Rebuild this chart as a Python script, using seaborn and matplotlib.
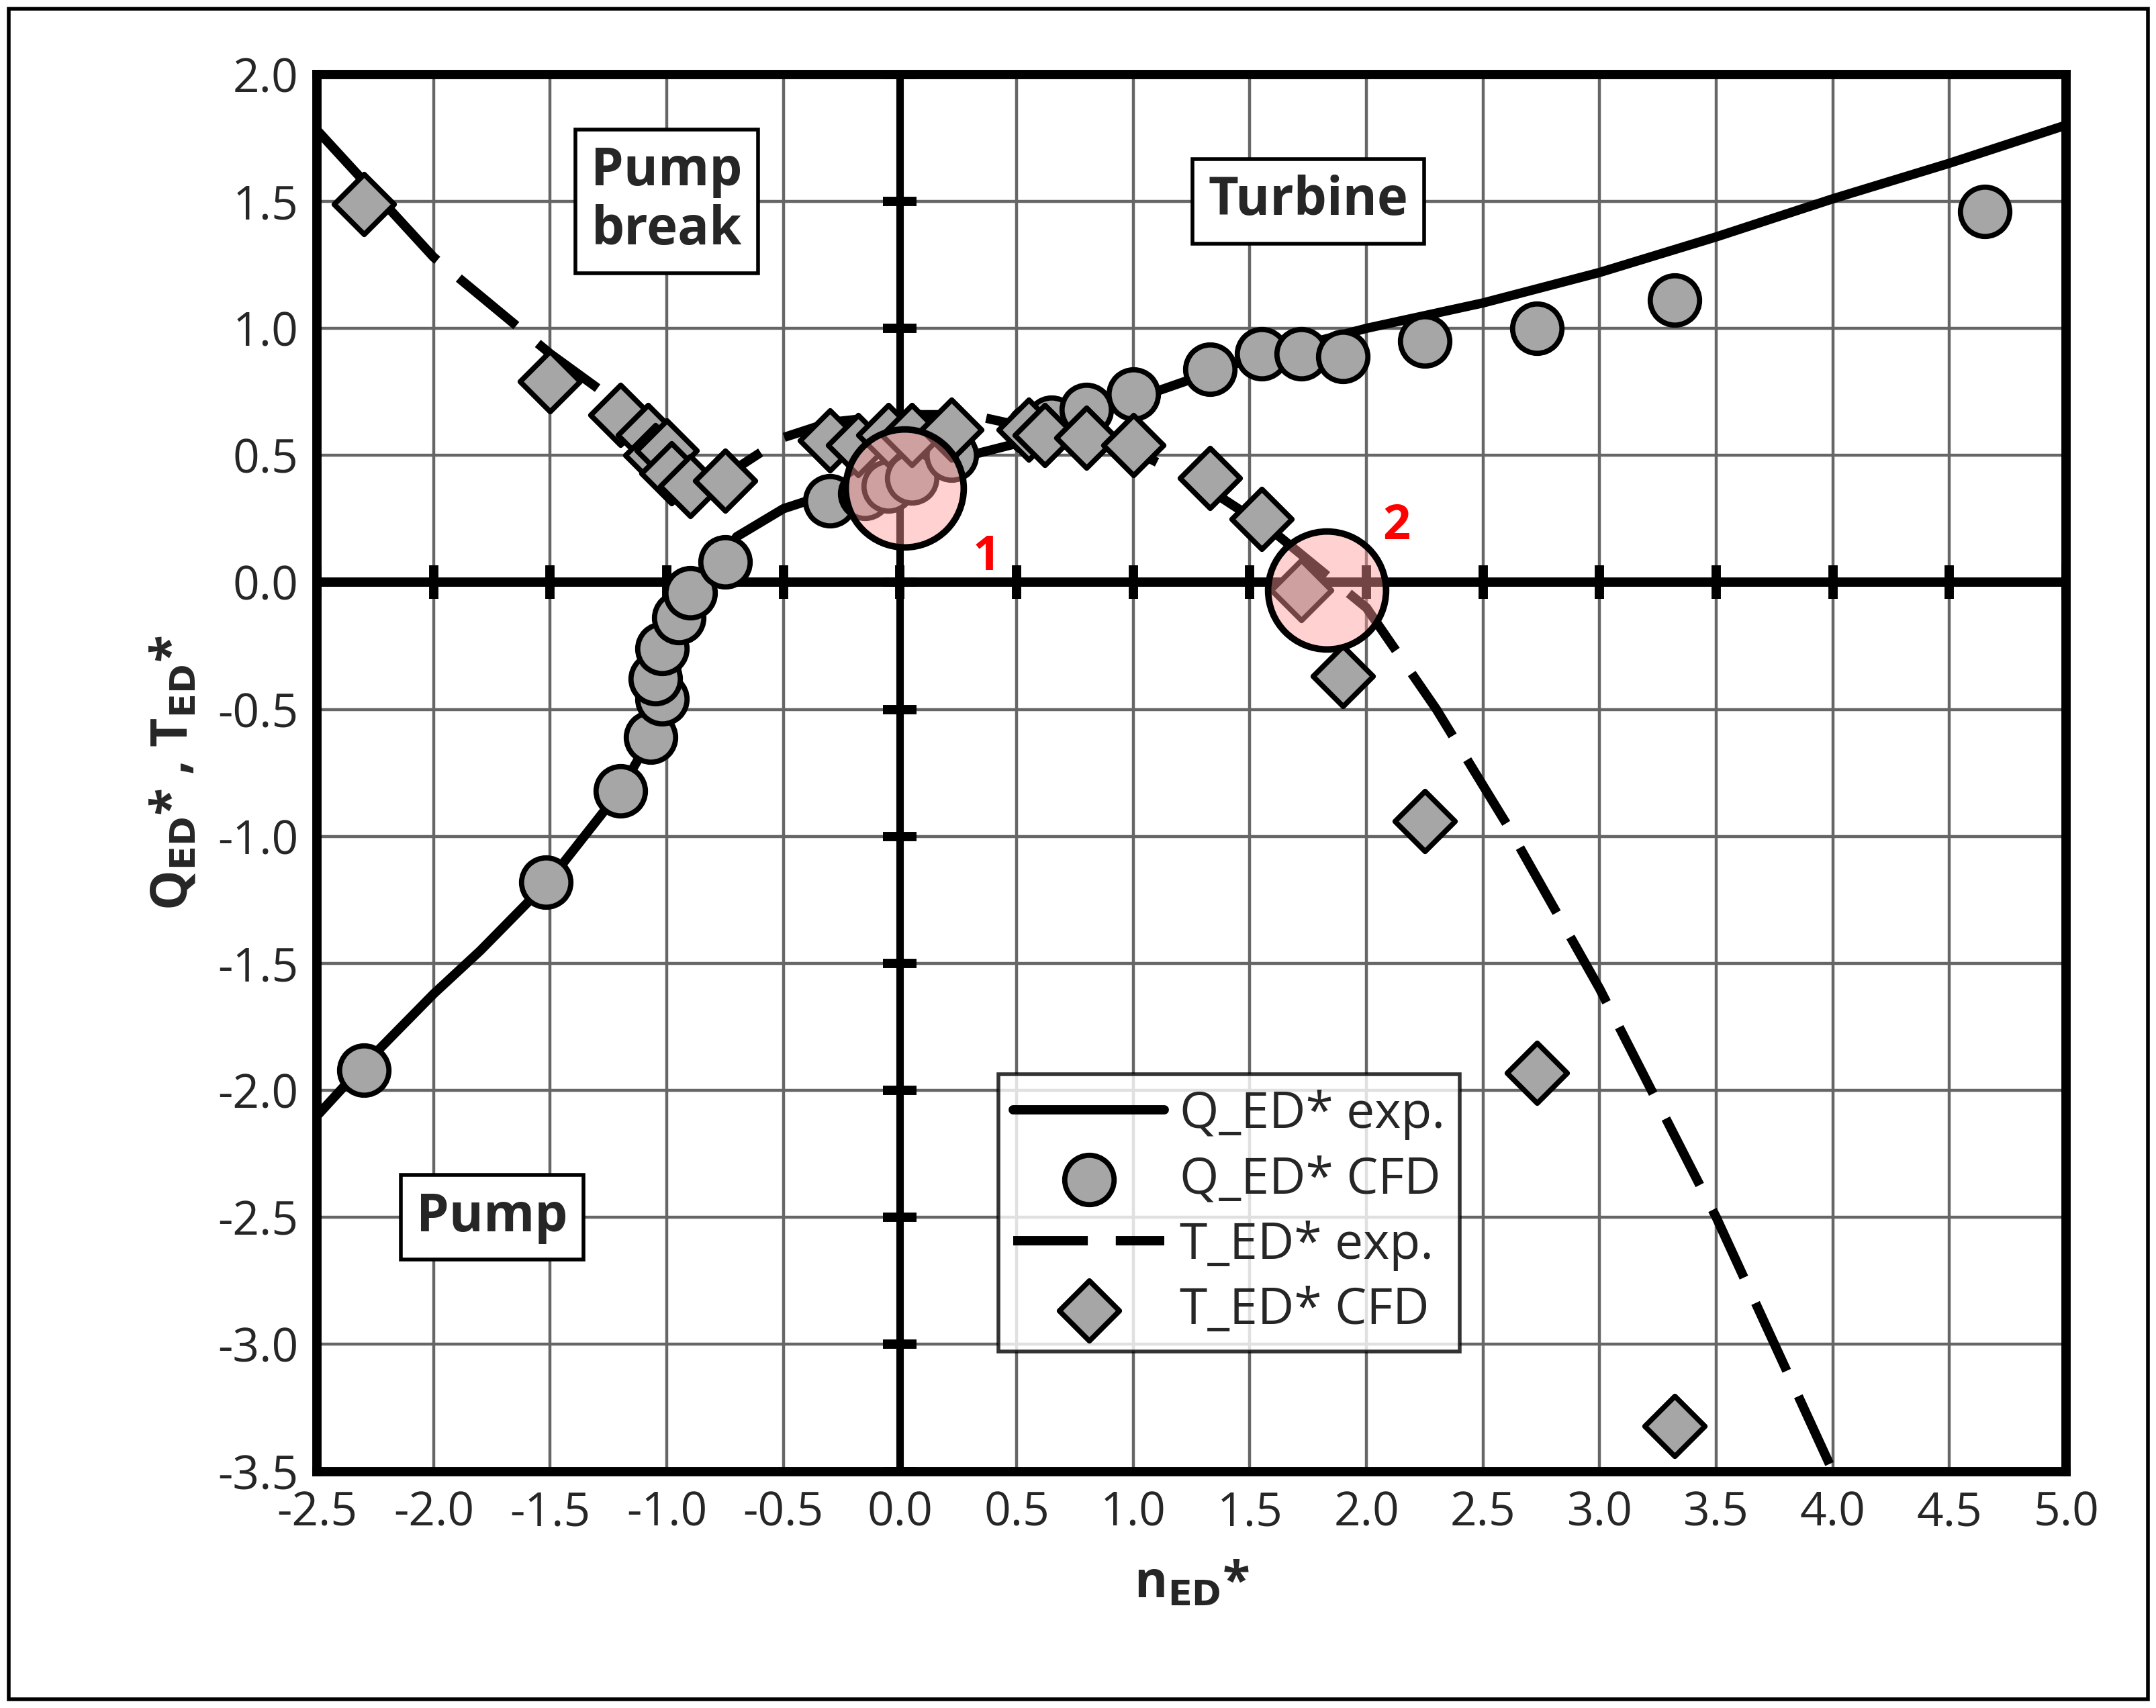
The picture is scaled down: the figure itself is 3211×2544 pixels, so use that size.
import numpy as np
import pandas as pd
import matplotlib
matplotlib.use('Agg')
import matplotlib.pyplot as plt
import seaborn as sns
from matplotlib.patches import Rectangle

sns.set_style('white')
plt.rcParams['font.family'] = ['Open Sans', 'DejaVu Sans']

# ---- data ----
q_exp_x = [-2.5, -2.3, -2.0, -1.8, -1.5, -1.2, -1.0, -0.92, -0.85, -0.7, -0.5, -0.3, 0.0, 0.3, 0.6, 1.0, 1.5, 2.0, 2.5, 3.0, 3.5, 4.0, 4.5, 5.0]
q_exp_y = [-2.1, -1.9, -1.62, -1.45, -1.17, -0.82, -0.5, -0.2, -0.02, 0.18, 0.29, 0.35, 0.42, 0.5, 0.57, 0.72, 0.88, 1.0, 1.1, 1.22, 1.36, 1.51, 1.65, 1.8]

q_cfd_x = [-2.3, -1.52, -1.2, -1.07, -1.02, -1.05, -1.02, -0.95, -0.9, -0.75, -0.3, -0.15, -0.05, 0.05, 0.22, 0.57, 0.65, 0.8, 1.0, 1.33, 1.55, 1.72, 1.9, 2.25, 2.73, 3.32, 4.65]
q_cfd_y = [-1.92, -1.18, -0.82, -0.61, -0.46, -0.38, -0.26, -0.14, -0.04, 0.08, 0.32, 0.35, 0.38, 0.41, 0.5, 0.6, 0.63, 0.68, 0.74, 0.84, 0.9, 0.9, 0.89, 0.95, 1.0, 1.11, 1.46]

t_exp_x = [-2.5, -2.0, -1.5, -1.2, -1.0, -0.9, -0.75, -0.5, -0.3, 0.0, 0.3, 0.6, 1.0, 1.3, 1.6, 1.8, 2.0, 2.3, 2.6, 3.0, 3.5, 4.0]
t_exp_y = [1.78, 1.28, 0.9, 0.7, 0.52, 0.42, 0.42, 0.57, 0.63, 0.66, 0.66, 0.6, 0.52, 0.38, 0.2, 0.05, -0.1, -0.5, -0.95, -1.6, -2.5, -3.5]

t_cfd_x = [-2.3, -1.5, -1.2, -1.08, -1.05, -1.0, -0.98, -0.9, -0.75, -0.3, -0.18, -0.05, 0.05, 0.22, 0.55, 0.62, 0.8, 1.0, 1.33, 1.55, 1.72, 1.9, 2.25, 2.73, 3.32]
t_cfd_y = [1.49, 0.79, 0.66, 0.58, 0.5, 0.52, 0.43, 0.38, 0.4, 0.56, 0.54, 0.58, 0.58, 0.6, 0.6, 0.58, 0.57, 0.54, 0.41, 0.25, -0.03, -0.37, -0.94, -1.93, -3.32]

marked_x = [0.02, 1.83]
marked_y = [0.37, -0.03]
marked_labels = ['1', '2']

fig = plt.figure(figsize=(16.06, 12.72), dpi=200)
ax = fig.add_axes([0.147, 0.1385, 0.811, 0.818])

ax.set_xlim(-2.5, 5.0)
ax.set_ylim(-3.5, 2.0)
xt = np.arange(-2.5, 5.01, 0.5)
yt = np.arange(-3.5, 2.01, 0.5)
ax.set_xticks(xt)
ax.set_yticks(yt)
ax.set_xticklabels([f'{v:.1f}' for v in xt], fontsize=25)
ax.set_yticklabels([f'{v:.1f}' for v in yt], fontsize=25)
ax.grid(True, color='#666666', lw=1.6)
ax.tick_params(axis='both', length=0, pad=10)
for s in ax.spines.values():
    s.set_linewidth(5)
    s.set_color('black')

# thick axes through origin with tick marks
ax.axhline(0, color='black', lw=5, zorder=2)
ax.axvline(0, color='black', lw=4, zorder=2)
ax.scatter(xt, np.zeros(len(xt)), marker='|', s=320, lw=5, color='black', zorder=2)
ax.scatter(np.zeros(len(yt)), yt, marker='_', s=320, lw=5, color='black', zorder=2)

sns.lineplot(x=q_exp_x, y=q_exp_y, sort=False, color='black', lw=5, ax=ax, label='Q_ED* exp.', zorder=3)
sns.scatterplot(x=q_cfd_x, y=q_cfd_y, marker='o', s=700, color='#a6a6a6', edgecolor='black', linewidth=2.8, ax=ax, label='Q_ED* CFD', zorder=4)
ax.plot(t_exp_x, t_exp_y, color='black', lw=5, dashes=(8, 3), label='T_ED* exp.', zorder=3)
sns.scatterplot(x=t_cfd_x, y=t_cfd_y, marker='D', s=520, color='#a6a6a6', edgecolor='black', linewidth=2.8, ax=ax, label='T_ED* CFD', zorder=4)

# highlighted points
for mx, my, lab, dx, dy in zip(marked_x, marked_y, marked_labels, [0.35, 0.3], [-0.27, 0.25]):
    ax.scatter([mx], [my], s=4000, facecolor=(1, 0.6, 0.6, 0.45), edgecolor='black', linewidth=3.5, zorder=5)
    ax.text(mx + dx, my + dy, lab, color='red', fontsize=26, fontweight='bold', ha='center', va='center', zorder=6)

box = dict(boxstyle='square,pad=0.3', facecolor='white', edgecolor='black', lw=2)
ax.text(-1.0, 1.5, 'Pump\nbreak', fontsize=28, fontweight='bold', ha='center', va='center', bbox=box, linespacing=1.15, zorder=6)
ax.text(1.75, 1.5, 'Turbine', fontsize=28, fontweight='bold', ha='center', va='center', bbox=box, zorder=6)
ax.text(-1.75, -2.5, 'Pump', fontsize=28, fontweight='bold', ha='center', va='center', bbox=box, zorder=6)

leg = ax.legend(loc='lower left', fontsize=27, frameon=True, fancybox=False,
                edgecolor='black', borderpad=0.3, handlelength=3.0, handletextpad=0.3, labelspacing=0.3)
leg.get_frame().set_linewidth(2)
leg.set_zorder(7)
leg.set_bbox_to_anchor((0.375, 0.068), transform=ax.transAxes)

ax.set_xlabel(r'n$_{\mathbf{ED}}$*', fontsize=27, fontweight='bold', labelpad=12)
ax.set_ylabel(r'Q$_{\mathbf{ED}}$* , T$_{\mathbf{ED}}$*', fontsize=27, fontweight='bold', labelpad=10)

fig.patches.append(Rectangle((0.004, 0.005), 0.992, 0.99, transform=fig.transFigure, fill=False, edgecolor='black', lw=2))

fig.savefig('out.png', dpi=200)
